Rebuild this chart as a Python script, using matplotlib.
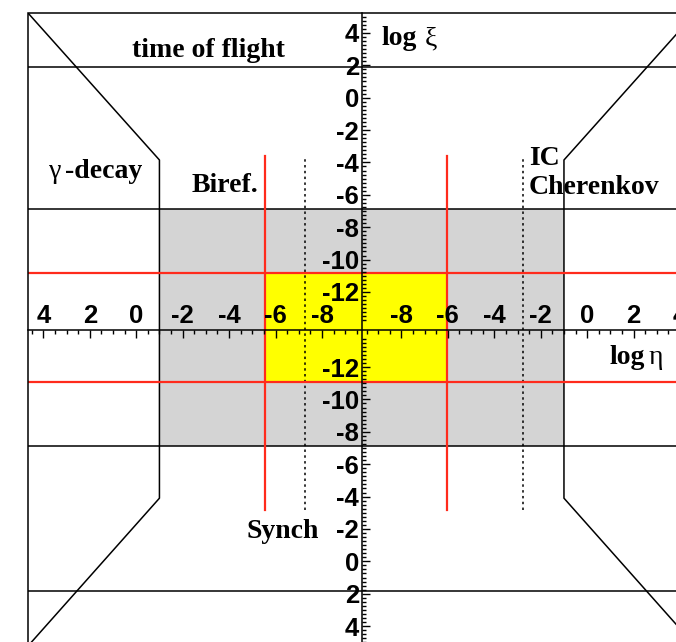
import matplotlib.pyplot as plt
import numpy as np
from matplotlib.patches import Rectangle
from matplotlib.ticker import FixedLocator, FixedFormatter

# distance (in log units) from the centre of the plot to log=0 on each axis
CX = 9.71
CY = 14.32

# tick values, running outwards from the centre on each half
eta_ticks = [-8, -6, -4, -2, 0, 2, 4]
xi_ticks = [-12, -10, -8, -6, -4, -2, 0, 2, 4]

# frame edges
eta_edge = 4.66
xi_edge = 5.23

# allowed region (grey box)
grey_eta = -1.0
grey_xi_up, grey_xi_dn = -6.88, -7.14
# time of flight bounds
tof_xi_up, tof_xi_dn = 1.9, 1.85
# gamma-decay / Cherenkov kinks
kink_xi_up, kink_xi_dn = -3.85, -3.9
# birefringence (horizontal) and synchrotron (vertical) bounds
red_eta_left, red_eta_right = -5.56, -6.04
red_xi_up, red_xi_dn = -10.86, -11.05
# synchrotron / inverse Compton (dotted)
dot_eta_left, dot_eta_right = -7.27, -2.76
# vertical extent of the red and dotted lines
vline_xi_up, vline_xi_dn = -3.6, -3.2


def X(v, side):
    return side * (v + CX)


def Y(v, side):
    return side * (v + CY)


W, H = 676, 642
fig = plt.figure(figsize=(W / 100, H / 100), dpi=100)
ax = fig.add_axes([28 / W, 1 - 646 / H, 667.4 / W, 633 / H])
xmax = X(eta_edge, 1)
ymax = Y(xi_edge, 1)
ax.set_xlim(-xmax, xmax)
ax.set_ylim(-ymax, ymax)

blk = dict(color='black', lw=1.1, zorder=3)
red = dict(color='#ff2b1c', lw=1.6, zorder=4)

# grey and yellow regions
gx = X(grey_eta, 1)
ax.add_patch(Rectangle((-gx, Y(grey_xi_dn, -1)), 2 * gx,
                       Y(grey_xi_up, 1) - Y(grey_xi_dn, -1),
                       facecolor='#d4d4d4', edgecolor='none', zorder=1))
yl, yr = X(red_eta_left, -1), X(red_eta_right, 1)
yb, yt = Y(red_xi_dn, -1), Y(red_xi_up, 1)
ax.add_patch(Rectangle((yl, yb), yr - yl, yt - yb,
                       facecolor='#ffff00', edgecolor='none', zorder=2))

# horizontal bounds
for yy in [Y(tof_xi_up, 1), Y(tof_xi_dn, -1), Y(grey_xi_up, 1), Y(grey_xi_dn, -1)]:
    ax.plot([-xmax, xmax], [yy, yy], **blk)
for yy in [yt, yb]:
    ax.plot([-xmax, xmax], [yy, yy], **red)

# gamma decay (left) and Cherenkov (right) outlines
for side in [-1, 1]:
    ax.plot([side * xmax, side * gx, side * gx, side * xmax],
            [ymax, Y(kink_xi_up, 1), Y(kink_xi_dn, -1), -ymax], **blk)

# vertical red and dotted lines
vy = [Y(vline_xi_dn, -1), Y(vline_xi_up, 1)]
ax.plot([yl, yl], vy, **red)
ax.plot([yr, yr], vy, **red)
for xx in [X(dot_eta_left, -1), X(dot_eta_right, 1)]:
    ax.plot([xx, xx], vy, color='black', lw=1.1, ls=(0, (1.6, 2.2)), zorder=3)

# frame
ax.add_patch(Rectangle((0, 0), 1, 1, transform=ax.transAxes, fill=False,
                       edgecolor='black', lw=1.1, zorder=5, clip_on=False))

# central axes
for s in ['right', 'bottom']:
    ax.spines[s].set_visible(False)
for s in ['top', 'left']:
    ax.spines[s].set_position(('data', 0))
    ax.spines[s].set_linewidth(1.1)
    ax.spines[s].set_zorder(6)
ax.xaxis.set_zorder(7)
ax.yaxis.set_zorder(7)
ax.xaxis.set_ticks_position('top')
ax.yaxis.set_ticks_position('left')

xt = [X(v, -1) for v in eta_ticks] + [X(v, 1) for v in eta_ticks]
xl = [str(v) for v in eta_ticks] * 2
ax.xaxis.set_major_locator(FixedLocator(xt))
ax.xaxis.set_major_formatter(FixedFormatter(xl))
xm = np.arange(-9.5, eta_edge, 0.5)
ax.xaxis.set_minor_locator(FixedLocator(list(X(xm, -1)) + list(X(xm, 1))))

yt_ = [Y(v, 1) for v in xi_ticks] + [Y(v, -1) for v in xi_ticks]
ylab = [str(v) for v in xi_ticks] * 2
ax.yaxis.set_major_locator(FixedLocator(yt_))
ax.yaxis.set_major_formatter(FixedFormatter(ylab))
ym = np.arange(-13.75, xi_edge, 0.25)
ax.yaxis.set_minor_locator(FixedLocator(list(Y(ym, 1)) + list(Y(ym, -1))))

ax.tick_params(which='both', direction='in', width=1.0)
ax.tick_params(which='major', length=5.5)
ax.tick_params(which='minor', length=2.8)
ax.tick_params(axis='x', which='major', pad=1.0)
ax.tick_params(axis='y', which='major', pad=2.0)
for lab in ax.get_xticklabels() + ax.get_yticklabels():
    lab.set_fontfamily('Liberation Sans')
    lab.set_fontweight('bold')
    lab.set_fontsize(18.5)

# labels
serif = dict(family='Liberation Serif', fontsize=20, va='baseline')


def label(x, y, s, bold=True, ha='left'):
    fig.text(x / W, 1 - y / H, s, ha=ha,
             fontweight='bold' if bold else 'normal', **serif)


label(208, 57, 'time of flight', ha='center')
label(381, 45, 'log')
label(425, 45, 'ξ', bold=False)
label(49, 178, 'γ', bold=False)
label(65, 178, '-decay')
label(192, 192, 'Biref.')
label(529, 165, 'IC')
label(529, 194, 'Cherenkov')
label(609, 364, 'log')
label(649, 364, 'η', bold=False)
label(246, 538, 'Synch')

fig.savefig('out.png', dpi=100)
